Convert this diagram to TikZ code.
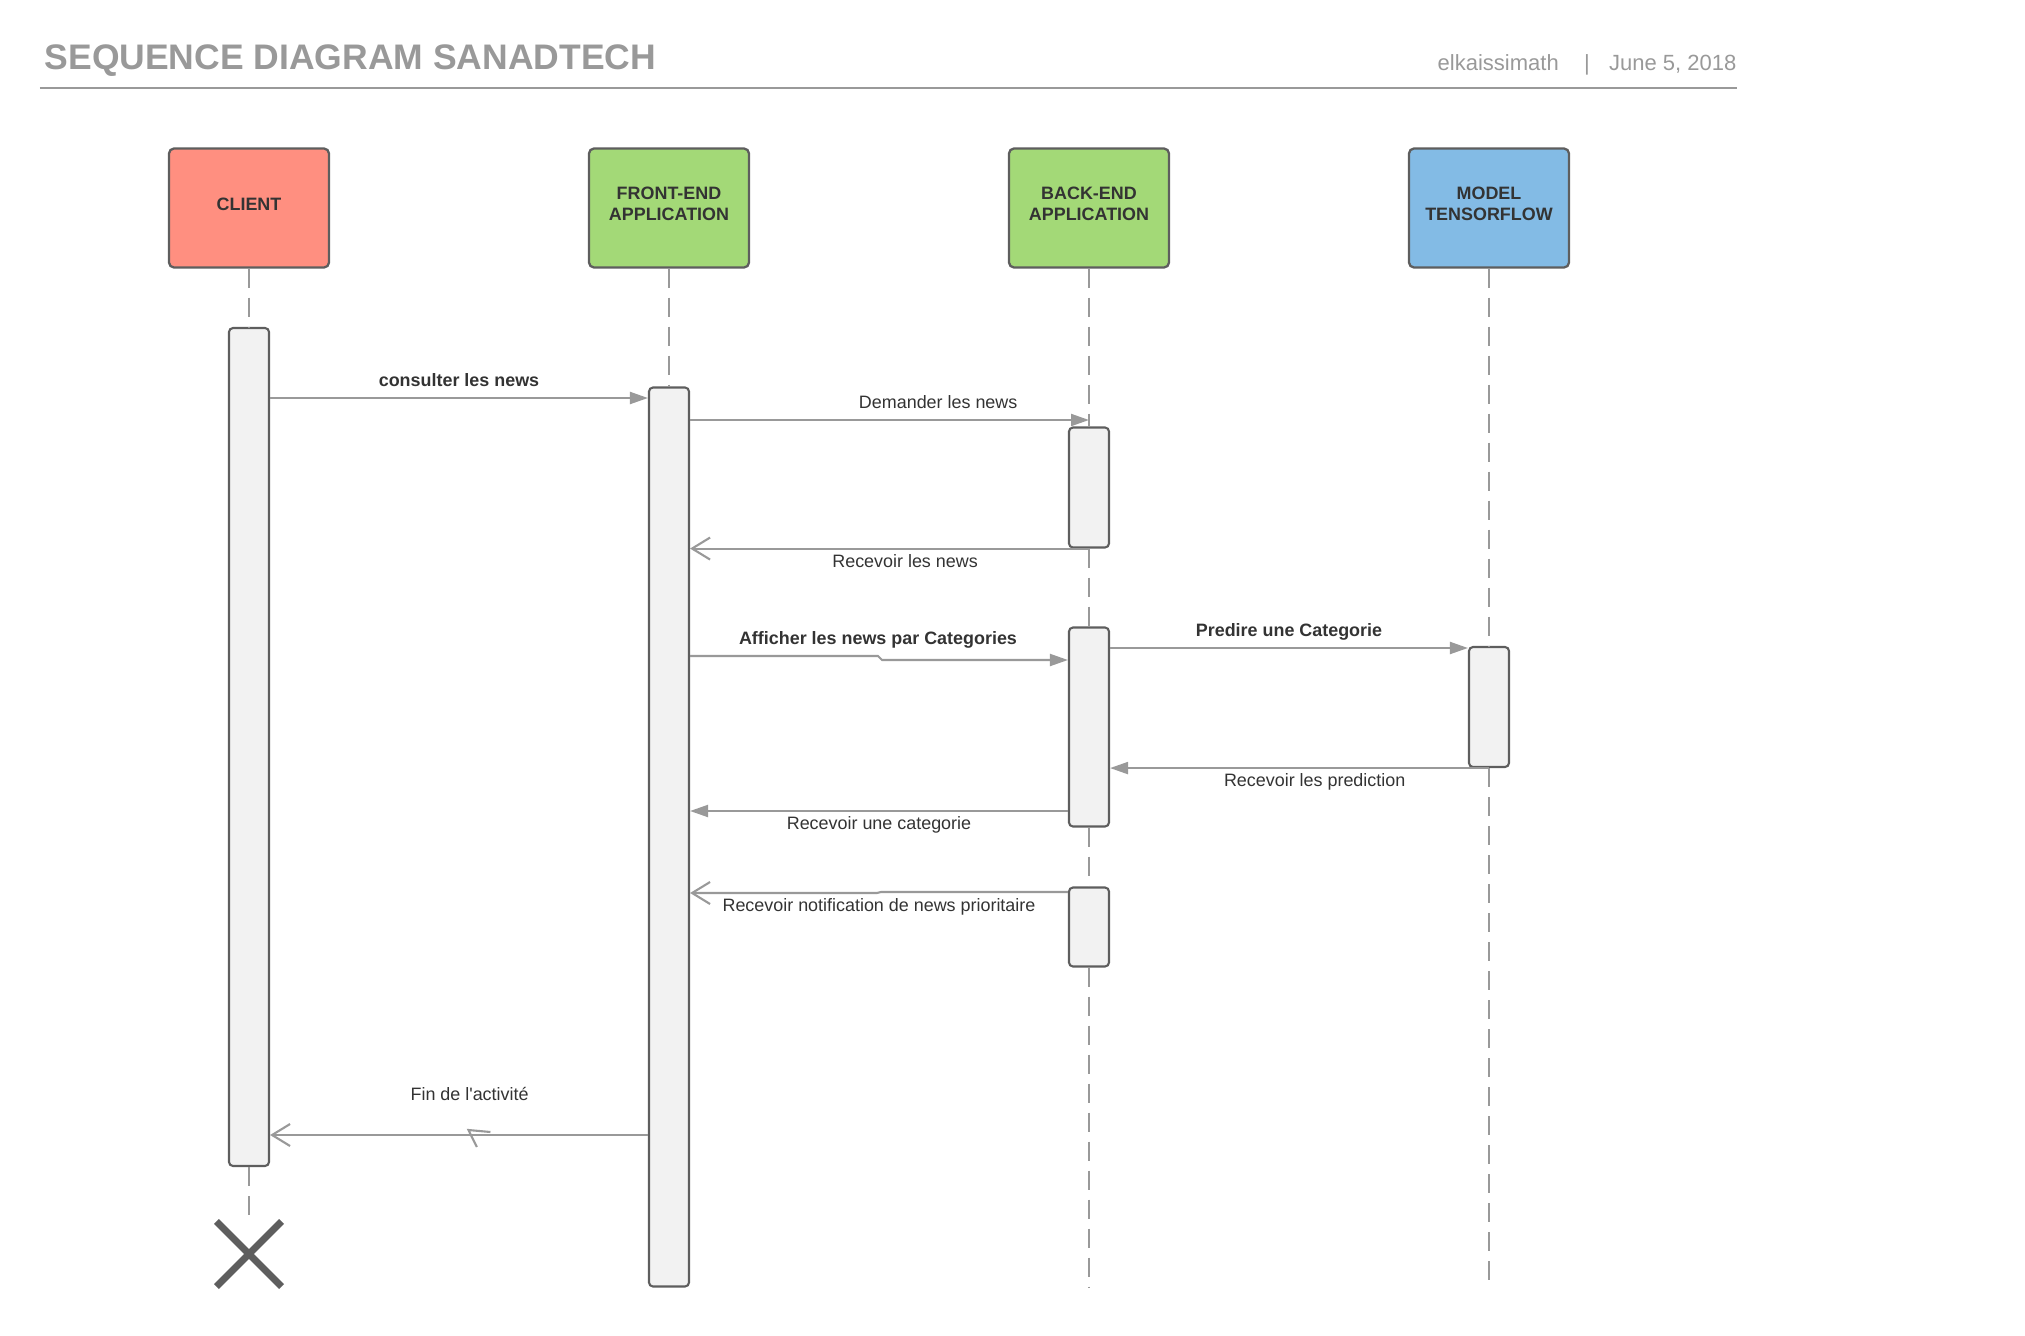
\documentclass[tikz,border=0pt]{standalone}
\usepackage{fontspec}
\setmainfont{Liberation Sans}[Ligatures=TeXOff]
\usepackage{tikz}
\usetikzlibrary{positioning, arrows.meta, shapes.misc}
\definecolor{clientred}{RGB}{255,143,128}
\definecolor{appgreen}{RGB}{163,217,119}
\definecolor{modelblue}{RGB}{131,187,229}
\definecolor{actgray}{RGB}{242,242,242}
\definecolor{edgegray}{RGB}{94,94,94}
\definecolor{linegray}{RGB}{153,153,153}
\definecolor{textdark}{RGB}{51,51,51}

\begin{document}
\begin{tikzpicture}[
head/.style={rectangle, draw=edgegray, line width=0.65pt, minimum width=1.6cm, minimum height=1.19cm, align=center, text depth=0.08cm, rounded corners=0.05cm, font=\fontsize{5.1}{5.9}\selectfont\bfseries, text=textdark},
act/.style={rectangle, draw=edgegray, line width=0.6pt, fill=actgray, minimum width=0.4cm, rounded corners=0.04cm, inner sep=0pt},
life/.style={linegray, line width=0.55pt, dash pattern=on 0.19cm off 0.1cm},
call/.style={-{Triangle[length=0.18cm, width=0.12cm]}, linegray, line width=0.6pt},
reply/.style={-{Straight Barb[length=0.18cm, width=0.22cm]}, linegray, line width=0.6pt},
lbl/.style={font=\fontsize{5.1}{6}\selectfont, text=textdark, text height=0.13cm, text depth=0.04cm},
lblb/.style={lbl, font=\fontsize{5.1}{6}\selectfont\bfseries},
hdr/.style={inner sep=0pt, text=linegray, font=\fontsize{6.26}{7.5}\selectfont}
]
\useasboundingbox (0,0) rectangle (20.25,-13.36);

% Header
\node[hdr, anchor=base west, font=\fontsize{10.1}{12}\selectfont\bfseries] (title) at (0.44,-0.695) {SEQUENCE DIAGRAM SANADTECH};
\node[hdr, anchor=base west] (author) at (14.37,-0.70) {elkaissimath};
\node[hdr, anchor=base] (sep) at (15.87,-0.70) {|};
\node[hdr, anchor=base east] (date) at (17.37,-0.70) {June 5, 2018};
\draw[linegray, line width=0.65pt] (0.40,-0.88) -- (17.37,-0.88);

% Lifeline heads
\node[head, fill=clientred] (client) at (2.49,-2.08) {CLIENT};
\node[head, fill=appgreen] (front) at (6.69,-2.08) {FRONT-END\\APPLICATION};
\node[head, fill=appgreen] (back) at (10.89,-2.08) {BACK-END\\APPLICATION};
\node[head, fill=modelblue] (model) at (14.89,-2.08) {MODEL\\TENSORFLOW};

% Activations
\node[act, minimum height=8.38cm] (actC) at (2.49,-7.47) {};
\node[act, minimum height=8.99cm] (actF) at (6.69,-8.37) {};
\node[act, minimum height=1.20cm] (actB1) at (10.89,-4.875) {};
\node[act, minimum height=1.99cm] (actB2) at (10.89,-7.27) {};
\node[act, minimum height=0.79cm] (actB3) at (10.89,-9.27) {};
\node[act, minimum height=1.20cm] (actM) at (14.89,-7.07) {};
\node[cross out, draw=edgegray, line width=2pt, minimum size=0.58cm, inner sep=0pt] (destroy) at (2.49,-12.54) {};
\coordinate (endB) at (10.89,-12.88);
\coordinate (endM) at (14.89,-12.88);

% Lifelines
\draw[life] (client) -- (actC);
\draw[life] (actC) -- (destroy);
\draw[life] (front) -- (actF);
\draw[life] (back) -- (actB1);
\draw[life] (actB1) -- (actB2);
\draw[life] (actB2) -- (actB3);
\draw[life] (actB3) -- (endB);
\draw[life] (model) -- (actM);
\draw[life] (actM) -- (endM);

% Messages
\draw[call] (actC.east |- 0,-3.98) -- node[lblb, midway, above=-0.055cm] {consulter les news} (actF.west |- 0,-3.98);
\draw[call] (actF.east |- 0,-4.20) -- node[lbl, pos=0.622, above=-0.055cm] {Demander les news} (actB1.north |- 0,-4.20);
\draw[reply] (actB1.south) -- node[lbl, pos=0.461, below=-0.07cm] {Recevoir les news} (actF.east |- actB1.south);
\draw[call] (actF.east |- 0,-6.56) -- node[lblb, pos=1, above=-0.055cm] {Afficher les news par Categories} (8.78,-6.56) -- (8.82,-6.60) -- (actB2.west |- 0,-6.60);
\draw[call] (actB2.east |- 0,-6.48) -- node[lblb, midway, above=-0.055cm] {Predire une Categorie} (actM.west |- 0,-6.48);
\draw[call] (actM.south) -- node[lbl, pos=0.46, below=-0.07cm] {Recevoir les prediction} (actB2.east |- actM.south);
\draw[call] (actB2.west |- 0,-8.11) -- node[lbl, midway, below=-0.07cm] {Recevoir une categorie} (actF.east |- 0,-8.11);
\draw[reply] (actB3.west |- 0,-8.92) -- (8.81,-8.92) -- node[lbl, below=-0.07cm] {Recevoir notification de news prioritaire} (8.77,-8.93) -- (actF.east |- 0,-8.93);
\draw[reply] (actF.west |- 0,-11.35) -- node[lbl, pos=0.472, above=0.18cm] {Fin de l'activité} coordinate[pos=0.475] (finmid) (actC.east |- 0,-11.35);
\draw[linegray, line width=0.6pt] ([shift={(0.22,0.03)}]finmid) -- ([shift={(0,0.05)}]finmid) -- ([shift={(0.084,-0.12)}]finmid);

\end{tikzpicture}
\end{document}
